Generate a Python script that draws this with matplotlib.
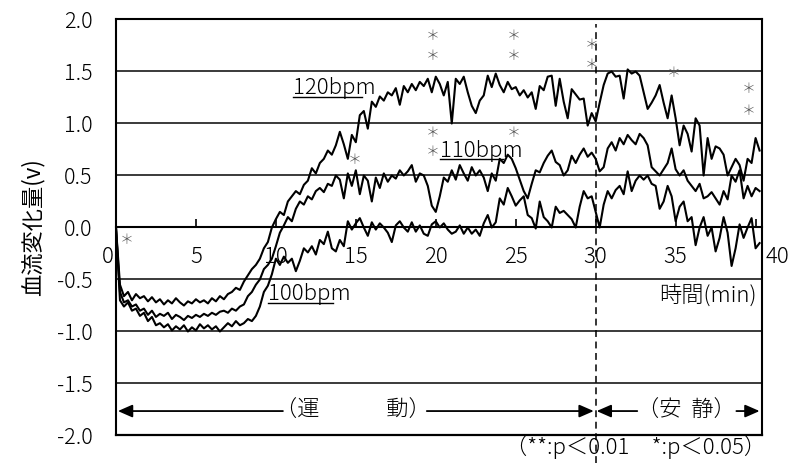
import numpy as np
import matplotlib.pyplot as plt

plt.rcParams['font.family'] = ['Noto Sans CJK JP', 'DejaVu Sans']
plt.rcParams['font.weight'] = 'light'

# Time axis (min), sampled every 0.25 min
time_min = np.arange(0, 40.26, 0.25)

# Blood flow change (v), 4 values per minute
bpm120 = [
    0.00, -0.55, -0.66, -0.62,  -0.70, -0.64, -0.68, -0.66,  -0.71, -0.67, -0.72, -0.69,
    -0.74, -0.70, -0.73, -0.68,  -0.72, -0.75, -0.71, -0.73,  -0.69, -0.72, -0.70, -0.73,
    -0.68, -0.71, -0.66, -0.69,  -0.64, -0.62, -0.58, -0.60,  -0.52, -0.46, -0.40, -0.36,
    -0.30, -0.20, -0.14, 0.00,  0.08, 0.15, 0.12, 0.25,  0.30, 0.35, 0.32, 0.41,
    0.45, 0.57, 0.52, 0.62,  0.66, 0.74, 0.70, 0.79,  0.92, 0.80, 0.66, 0.89,
    0.82, 1.08, 1.12, 0.95,  1.21, 1.16, 1.26, 1.22,  1.30, 1.27, 1.34, 1.18,
    1.36, 1.30, 1.38, 1.32,  1.40, 1.36, 1.43, 1.30,  1.45, 1.38, 1.27, 1.40,
    1.00, 1.43, 1.38, 1.45,  1.30, 1.17, 1.10, 1.22,  1.27, 1.46, 1.35, 1.48,
    1.37, 1.30, 1.40, 1.33,  1.35, 1.27, 1.32, 1.25,  1.30, 1.14, 1.36, 1.32,
    1.45, 1.46, 1.17, 1.43,  1.21, 1.05, 1.33, 1.28,  1.23, 1.24, 0.98, 1.10,
    1.02, 1.20, 1.37, 1.48,  1.50, 1.45, 1.46, 1.24,  1.52, 1.48, 1.50, 1.46,
    1.30, 1.14, 1.20, 1.27,  1.37, 1.20, 1.05, 1.27,  1.05, 0.79, 0.98, 0.90,
    0.73, 1.05, 0.98, 0.50,  0.86, 0.66, 0.78, 0.76,  0.70, 0.50, 0.58, 0.66,
    0.60, 0.45, 0.66, 0.62,  0.86, 0.74,
]
bpm110 = [
    0.00, -0.62, -0.72, -0.70,  -0.76, -0.74, -0.80, -0.78,  -0.84, -0.80, -0.86, -0.83,
    -0.85, -0.82, -0.88, -0.84,  -0.86, -0.89, -0.85, -0.87,  -0.84, -0.86, -0.83, -0.85,
    -0.82, -0.84, -0.81, -0.80,  -0.82, -0.78, -0.80, -0.76,  -0.74, -0.66, -0.62, -0.55,
    -0.50, -0.40, -0.36, -0.30,  -0.18, -0.05, 0.02, 0.10,  0.06, 0.18, 0.25, 0.22,
    0.30, 0.27, 0.35, 0.38,  0.34, 0.42, 0.40, 0.50,  0.46, 0.28, 0.52, 0.40,
    0.55, 0.32, 0.50, 0.45,  0.25, 0.48, 0.38, 0.52,  0.44, 0.50, 0.47, 0.55,
    0.50, 0.54, 0.60, 0.44,  0.52, 0.50, 0.40, 0.21,  0.15, 0.30, 0.48, 0.44,
    0.55, 0.46, 0.60, 0.52,  0.45, 0.58, 0.50, 0.55,  0.48, 0.35, 0.52, 0.45,
    0.66, 0.62, 0.70, 0.66,  0.57, 0.46, 0.35, 0.28,  0.42, 0.55, 0.53, 0.62,
    0.69, 0.74, 0.63, 0.60,  0.50, 0.55, 0.69, 0.62,  0.70, 0.76, 0.68, 0.72,
    0.66, 0.54, 0.58, 0.76,  0.82, 0.74, 0.86, 0.80,  0.89, 0.84, 0.80, 0.90,
    0.86, 0.79, 0.58, 0.54,  0.50, 0.56, 0.62, 0.76,  0.56, 0.50, 0.55, 0.45,
    0.40, 0.35, 0.42, 0.28,  0.30, 0.34, 0.28, 0.22,  0.35, 0.27, 0.50, 0.44,
    0.55, 0.28, 0.40, 0.30,  0.38, 0.35,
]
bpm100 = [
    0.00, -0.70, -0.76, -0.72,  -0.80, -0.78, -0.85, -0.82,  -0.90, -0.86, -0.94, -0.92,
    -0.96, -0.93, -0.99, -0.95,  -0.98, -0.94, -1.00, -0.96,  -0.99, -0.93, -0.97, -0.94,
    -0.98, -0.95, -1.00, -0.96,  -0.92, -0.95, -0.90, -0.94,  -0.92, -0.88, -0.90, -0.85,
    -0.76, -0.62, -0.56, -0.45,  -0.30, -0.36, -0.28, -0.34,  -0.30, -0.42, -0.32, -0.20,
    -0.24, -0.18, -0.26, -0.12,  -0.16, -0.04, -0.20, -0.23,  -0.12, -0.18, 0.06, -0.02,
    0.04, 0.09, 0.00, -0.08,  0.05, -0.02, 0.04, 0.00,  -0.05, -0.14, 0.02, 0.06,
    0.00, -0.04, 0.05, -0.04,  0.02, -0.06, -0.08, 0.03,  0.06, 0.00, 0.04, -0.02,
    -0.06, -0.04, 0.02, -0.06,  0.00, -0.06, -0.02, -0.08,  0.04, 0.12, 0.00, 0.05,
    0.28, 0.22, 0.38, 0.30,  0.21, 0.26, 0.30, 0.12,  0.09, -0.01, 0.25, 0.10,
    0.06, 0.00, 0.20, 0.14,  0.16, 0.12, 0.08, 0.00,  0.20, 0.35, 0.28, 0.30,
    0.15, 0.00, 0.22, 0.35,  0.28, 0.36, 0.40, 0.32,  0.54, 0.35, 0.45, 0.50,
    0.46, 0.50, 0.42, 0.40,  0.18, 0.25, 0.40, 0.30,  0.06, 0.20, 0.25, 0.06,
    0.10, -0.17, 0.00, 0.10,  -0.08, 0.00, -0.23, -0.10,  0.10, -0.05, -0.37, -0.20,
    0.03, -0.10, 0.00, 0.09,  -0.20, -0.15,
]

y_ticks = [-2.0, -1.5, -1.0, -0.5, 0.0, 0.5, 1.0, 1.5, 2.0]
y_labels = ['-2.0', '-1.5', '-1.0', '-0.5', '0.0', '0.5', '1.0', '1.5', '2.0']
x_ticks = [0, 5, 10, 15, 20, 25, 30, 35, 40]
x_labels = ['', '5', '10', '15', '20', '25', '30', '35', '']

# significance marks: (time, level, text)
sig_marks = [
    (0.7, -0.12, '*'),
    (19.8, 1.84, '*'), (19.8, 1.65, '*'), (24.9, 1.84, '*'), (24.9, 1.65, '*'),
    (19.8, 0.91, '*'), (19.8, 0.73, '*'), (24.9, 0.91, '*'),
    (14.9, 0.65, '*'),
    (29.75, 1.75, '*'), (29.75, 1.56, '*'),
    (34.9, 1.49, '*'),
    (39.6, 1.33, '*'), (39.6, 1.12, '*'),
]

exercise_end = 30
fs = 16

fig = plt.figure(figsize=(8.02, 4.63), dpi=100)
ax = fig.add_axes([0.1446, 0.0594, 0.8055, 0.8985])

# horizontal grid
for yv in y_ticks:
    if yv != 0:
        ax.axhline(yv, color='#3a3a3a', lw=1.4, zorder=1)

# the three curves
for series in (bpm120, bpm110, bpm100):
    ax.plot(time_min, series, color='black', lw=1.5, zorder=3)

ax.set_xlim(0, 40.4)
ax.set_ylim(-2, 2)

# x axis runs through 0, frame bottom drawn separately
ax.spines['bottom'].set_position(('data', 0))
ax.axhline(-2, color='black', lw=1.6, zorder=4, clip_on=False)
for s in ax.spines.values():
    s.set_linewidth(1.5)

ax.set_xticks(x_ticks, labels=x_labels)
ax.tick_params(axis='x', direction='in', length=6, width=1.2, pad=13, labelsize=fs)
ax.set_yticks(y_ticks, labels=y_labels)
ax.tick_params(axis='y', length=0, pad=17, labelsize=fs - 0.5)
ax.text(-0.5, -0.28, '0', ha='center', va='center', fontsize=fs)
ax.text(41.4, -0.28, '40', ha='center', va='center', fontsize=fs, clip_on=False)

ax.set_ylabel('血流変化量(v)', fontsize=fs)
ax.yaxis.set_label_coords(-0.11, 0.5)

ax.text(40.06, -0.65, '時間(min)', ha='right', va='center', fontsize=fs)

# end of exercise
ax.axvline(exercise_end, ymin=-0.066, ymax=0.99, color='black', lw=1.1,
           ls=(0, (4.5, 3)), clip_on=False, zorder=2)

# curve labels with underline
curve_labels = [('120bpm', 11.06, 1.28, 15.38), ('110bpm', 20.25, 0.68, 24.19),
                ('100bpm', 9.5, -0.70, 13.58)]
for txt, x0, yb, x1 in curve_labels:
    ax.text(x0, yb, txt, ha='left', va='baseline', fontsize=fs, zorder=5)
    ax.plot([x0, x1], [yb - 0.025, yb - 0.025], color='black', lw=1.0)

for x, y, s in sig_marks:
    ax.text(x, y, '＊', ha='center', va='center', fontsize=10, color='#555555')

# period arrows
arr = dict(arrowstyle='-|>,head_length=0.8,head_width=0.35', color='black',
           lw=1.3, mutation_scale=11, shrinkA=0, shrinkB=0)
ya = -1.765
ax.annotate('', xy=(0.12, ya), xytext=(10.44, ya), arrowprops=arr)
ax.annotate('', xy=(29.88, ya), xytext=(19.44, ya), arrowprops=arr)
ax.annotate('', xy=(30.06, ya), xytext=(32.6, ya), arrowprops=arr)
ax.annotate('', xy=(40.25, ya), xytext=(38.8, ya), arrowprops=arr)
ax.text(14.8, ya, '（運　　　動）', ha='center', va='center', fontsize=fs)
ax.text(35.66, ya, '（安  静）', ha='center', va='center', fontsize=fs)

ax.text(32.5, -2.115, '（**:p＜0.01　*:p＜0.05）', ha='center', va='center',
        fontsize=fs, clip_on=False)

fig.savefig('out.png', dpi=100)
